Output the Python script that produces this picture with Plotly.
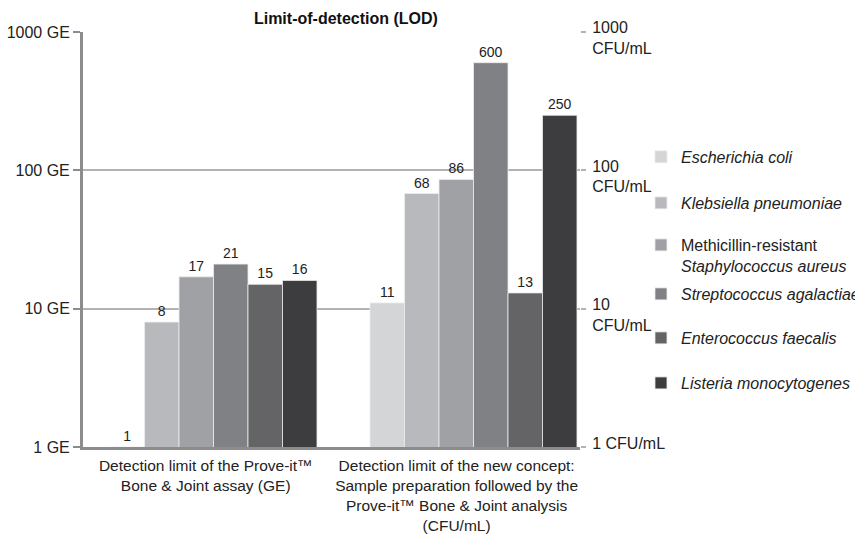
import plotly.graph_objects as go

# ---- data ----
groups = ["Detection limit of the Prove-it™<br>Bone & Joint assay (GE)",
          "Detection limit of the new concept:<br>Sample preparation followed by the<br>Prove-it™ Bone & Joint analysis<br>(CFU/mL)"]
species = ["<i>Escherichia coli</i>",
           "<i>Klebsiella pneumoniae</i>",
           "Methicillin-resistant<br><i>Staphylococcus aureus</i>",
           "<i>Streptococcus agalactiae</i>",
           "<i>Enterococcus faecalis</i>",
           "<i>Listeria monocytogenes</i>"]
lod_ge = [1, 8, 17, 21, 15, 16]          # Prove-it assay (GE)
lod_cfu = [11, 68, 86, 600, 13, 250]     # new concept (CFU/mL)
colors = ["#d4d5d7", "#b8b9bc", "#a0a1a4", "#808184", "#646466", "#3d3d3f"]

left_ticks = [1, 10, 100, 1000]
left_text = ["1 GE", "10 GE", "100 GE", "1000 GE"]
right_ticks_multi = [10, 100, 1000]
right_text_multi = ["10<br>CFU/mL", "100<br>CFU/mL", "1000<br>CFU/mL"]
right_ticks_single = [1]
right_text_single = ["1 CFU/mL"]

FONT = "Liberation Sans, Arial, sans-serif"
GRID = "#b3b3b3"
AXIS = "#8c8c8c"

# legend positions (paper y, item centres)
leg_y = [0.699, 0.588, 0.4614, 0.3687, 0.2627, 0.1542]

fig = go.Figure()
for i, name in enumerate(species):
    lg = "legend" if i == 0 else f"legend{i+1}"
    fig.add_trace(go.Bar(
        x=[0, 1], y=[lod_ge[i], lod_cfu[i]], name=name,
        marker=dict(color=colors[i], line=dict(color="#ececec", width=0.8)),
        text=[lod_ge[i], lod_cfu[i]], texttemplate="%{text}",
        textposition="outside", cliponaxis=False,
        textfont=dict(size=14, color="#222222", family=FONT),
        legend=lg, showlegend=True,
    ))

# invisible traces so the right-hand axes are drawn
for ax in ("y2", "y3"):
    fig.add_trace(go.Scatter(x=[0], y=[1], yaxis=ax, mode="markers",
                             marker=dict(opacity=0), showlegend=False, hoverinfo="skip"))

legends = {}
for i in range(6):
    key = "legend" if i == 0 else f"legend{i+1}"
    legends[key] = dict(
        x=1.1227, xanchor="left", y=leg_y[i], yanchor="middle",
        font=dict(size=16, color="#222222", family=FONT),
        bgcolor="rgba(0,0,0,0)", borderwidth=0, itemwidth=30,
        valign="middle",
    )

right_common = dict(type="log", range=[0, 3], overlaying="y", side="right",
                    showline=False, showgrid=False, zeroline=False,
                    ticks="outside", ticklen=5, tickwidth=1.5, tickcolor=GRID,
                    ticklabelstandoff=3,
                    tickfont=dict(size=16, color="#222222", family=FONT))

fig.update_layout(
    width=855, height=534,
    margin=dict(l=83, r=275, t=32, b=87, autoexpand=False),
    paper_bgcolor="white", plot_bgcolor="white",
    font=dict(family=FONT, size=16, color="#222222"),
    barmode="group", bargap=0.204, bargroupgap=0,
    title=dict(text="<b>Limit-of-detection (LOD)</b>", x=0.529, xref="paper",
               xanchor="center", y=1 - 18 / 534, yanchor="middle",
               font=dict(size=16, color="#111111", family=FONT)),
    xaxis=dict(range=[-0.502, 1.4096], tickvals=[-0.03, 0.935], ticktext=groups,
               showline=True, linecolor=AXIS, linewidth=3, ticks="",
               showgrid=False, zeroline=False, ticklabelstandoff=2,
               tickfont=dict(size=15.5, color="#222222", family=FONT)),
    yaxis=dict(type="log", range=[0, 3], tickvals=left_ticks, ticktext=left_text,
               showline=True, linecolor=AXIS, linewidth=3,
               ticks="outside", ticklen=7, tickwidth=2, tickcolor=AXIS,
               showgrid=True, gridcolor=GRID, gridwidth=1.5, zeroline=False,
               tickfont=dict(size=16, color="#222222", family=FONT)),
    yaxis2=dict(tickvals=right_ticks_multi, ticktext=right_text_multi,
                ticklabelshift=6, **right_common),
    yaxis3=dict(tickvals=right_ticks_single, ticktext=right_text_single,
                ticklabelshift=-4, **right_common),
    **legends,
)
fig.update_layout(legend3=dict(valign="top"))

fig.write_html("out.html",
               config={"displayModeBar": False},
               post_script="document.body.style.margin='0';document.body.style.padding='0';")
